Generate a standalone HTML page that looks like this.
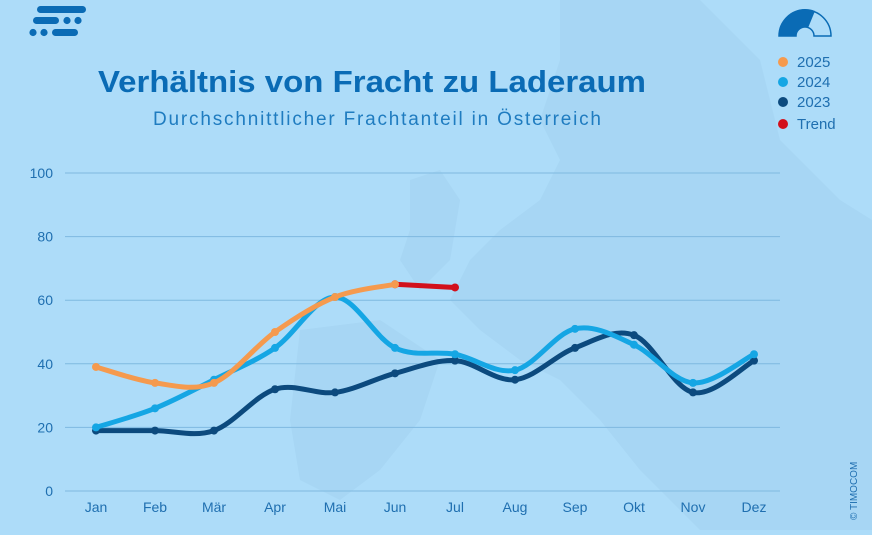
<!DOCTYPE html><html><head><meta charset="utf-8"><style>
body{margin:0;width:872px;height:530px;overflow:hidden;background:#addcf9;font-family:"Liberation Sans",sans-serif}
</style></head><body>
<svg id="s" width="872" height="530" xmlns="http://www.w3.org/2000/svg">
<rect width="872" height="530" fill="#addcf9"/>
<g fill="#a7d6f4">
<path d="M560 0 L700 0 L760 60 L780 140 L840 200 L872 220 L872 530 L700 530 L640 470 L600 420 L560 380 L520 360 L480 330 L450 300 L470 260 L500 230 L540 200 L560 160 L540 120 L560 60Z"/>
<path d="M410 180 L440 170 L460 200 L450 260 L420 290 L400 260 L410 230Z"/>
<path d="M300 330 L380 320 L440 360 L420 420 L380 470 L340 500 L300 480 L290 420Z"/>
</g>
<g fill="#0a6bb5">
<rect x="37" y="6" width="49" height="7" rx="3.5"/>
<rect x="33" y="17" width="26" height="7" rx="3.5"/><circle cx="67" cy="20.5" r="3.6"/><circle cx="78" cy="20.5" r="3.6"/>
<circle cx="33" cy="32.5" r="3.6"/><circle cx="44" cy="32.5" r="3.6"/><rect x="52" y="29" width="26" height="7" rx="3.5"/>
<path d="M779 36 A26 26 0 0 1 831 36 L814 36 A9 9 0 0 0 796 36Z" fill="none" stroke="#0a6bb5" stroke-width="1.5"/>
<path d="M779 36 A26 26 0 0 1 815 11 L808 28 A9 9 0 0 0 796 36Z"/>
</g>
<g font-size="15" fill="#1f6fb0">
<circle cx="783" cy="62" r="5" fill="#f59a4e"/><text x="797" y="67">2025</text>
<circle cx="783" cy="82" r="5" fill="#15a6e4"/><text x="797" y="87">2024</text>
<circle cx="783" cy="102" r="5" fill="#0c4a7e"/><text x="797" y="107">2023</text>
<circle cx="783" cy="124" r="5" fill="#d2101c"/><text x="797" y="129">Trend</text>
</g>
<text x="372" y="92" text-anchor="middle" font-size="31" font-weight="bold" fill="#0a6bb5" textLength="548" lengthAdjust="spacingAndGlyphs">Verhältnis von Fracht zu Laderaum</text>
<text x="377" y="125" text-anchor="middle" font-size="19" fill="#1f7cc0" textLength="448" lengthAdjust="spacing">Durchschnittlicher Frachtanteil in Österreich</text>
<g id="grid" stroke="#7fb9e0" stroke-width="1"></g>
<g id="lab" font-size="14" fill="#1f6fb0"></g>
<g id="lines" fill="none" stroke-linecap="round"></g>
<text x="857" y="520" font-size="10" fill="#1f6fb0" transform="rotate(-90 857 520)">© TIMOCOM</text>
</svg>
<script>
var ns="http://www.w3.org/2000/svg";
function el(p,t,a,tx){var e=document.createElementNS(ns,t);for(var k in a)e.setAttribute(k,a[k]);if(tx!==undefined)e.textContent=String(tx);document.getElementById(p).appendChild(e);}
function Y(v){return 491-3.18*v}
var X=[96,155,214,275,335,395,455,515,575,634,693,754];
for(var v=0;v<=100;v+=20){el('grid','line',{x1:65,x2:780,y1:Y(v),y2:Y(v)});el('lab','text',{x:53,y:Y(v)+5,'text-anchor':'end'},v);}
var m=["Jan","Feb","Mär","Apr","Mai","Jun","Jul","Aug","Sep","Okt","Nov","Dez"];
m.forEach(function(t,i){el('lab','text',{x:X[i],y:512,'text-anchor':'middle'},t)});
function path(pts){var d="M"+pts[0];for(var i=0;i<pts.length-1;i++){var p0=pts[i-1]||pts[i],p1=pts[i],p2=pts[i+1],p3=pts[i+2]||p2;
d+=" C"+(p1[0]+(p2[0]-p0[0])/6)+","+(p1[1]+(p2[1]-p0[1])/6)+" "+(p2[0]-(p3[0]-p1[0])/6)+","+(p2[1]-(p3[1]-p1[1])/6)+" "+p2[0]+","+p2[1];}return d;}
function series(vals,col,off){var pts=vals.map(function(v,i){return [X[i+(off||0)],Y(v)]});
el('lines','path',{d:path(pts),stroke:col,'stroke-width':5});pts.forEach(function(p){el('lines','circle',{cx:p[0],cy:p[1],r:4,fill:col,stroke:'none'})});}
series([19,19,19,32,31,37,41,35,45,49,31,41],"#0c4a7e");
series([20,26,35,45,61,45,43,38,51,46,34,43],"#15a6e4");
series([65,64],"#d2101c",5);
series([39,34,34,50,61,65],"#f59a4e");
</script>
</body></html>
